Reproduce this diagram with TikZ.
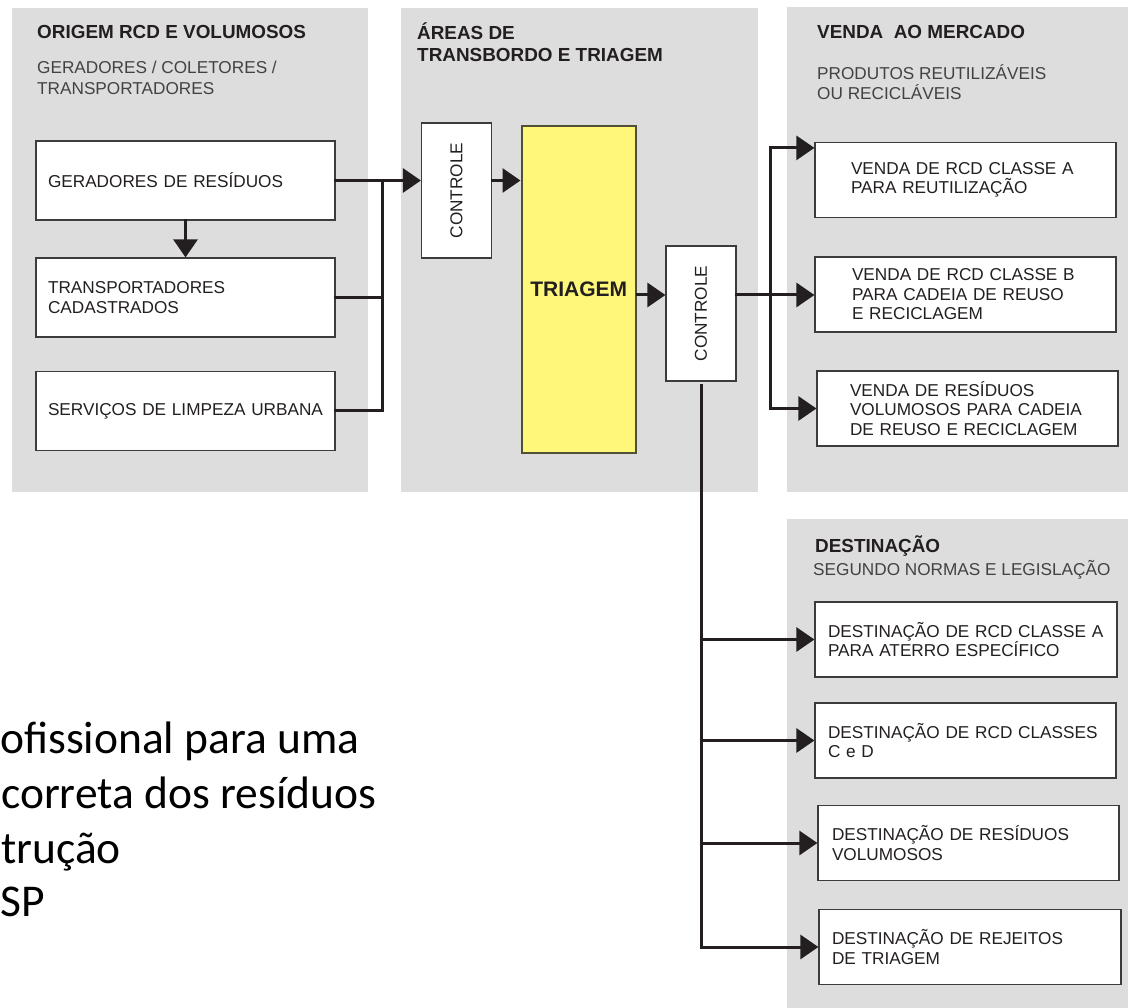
\documentclass[tikz,border=0pt]{standalone}
\usepackage{fontspec}
\setmainfont{Liberation Sans}
\newfontfamily\calibri{Carlito}
\usetikzlibrary{arrows.meta}
\definecolor{painel}{HTML}{DDDDDD}
\definecolor{amarelo}{HTML}{FFF77A}
\definecolor{traco}{HTML}{231F20}
\definecolor{borda}{HTML}{3C3C3C}
\tikzset{
	caixa/.style={draw=borda, fill=white, line width=1.2pt, align=left, inner ysep=0pt, text=traco, font=\fontsize{17.2}{19.5}\selectfont},
	origem/.style={caixa, minimum height=79pt, inner xsep=12pt, text width=275pt},
	saida/.style 2 args={caixa, minimum height=75pt, inner xsep=#1, text width=#2},
	controle/.style={caixa, minimum width=70pt, minimum height=135pt, inner sep=0pt},
	fluxo/.style={draw=traco, line width=3pt, line cap=rect},
	seta/.style={fluxo, -{Triangle[length=18pt,width=24pt]}},
	titulo/.style={anchor=base west, inner sep=0pt, text=traco, font=\bfseries\fontsize{18.9}{22}\selectfont},
	sub/.style={anchor=base west, inner sep=0pt, text=traco!85, font=\fontsize{17.2}{20}\selectfont},
	rodape/.style={anchor=base west, inner sep=0pt, font=\calibri\fontsize{45.5}{54}\selectfont},
}
\begin{document}
\begin{tikzpicture}[x=1pt,y=-1pt]
	\useasboundingbox (0,0) rectangle (1128,1008);
	% paineis
	\fill[painel] (12,8) rectangle (368,492);
	\fill[painel] (401,8) rectangle (758,492);
	\fill[painel] (787,7) rectangle (1128,492);
	\fill[painel] (787,519) rectangle (1128,1008);
	% titulos
	\node[titulo] (t1) at (37,39) {ORIGEM RCD E VOLUMOSOS};
	\node[sub] (t1a) at (37,74) {GERADORES / COLETORES /};
	\node[sub] (t1b) at (37,95) {TRANSPORTADORES};
	\node[titulo] (t2) at (417,40) {ÁREAS DE};
	\node[titulo] (t2a) at (417,62) {TRANSBORDO E TRIAGEM};
	\node[titulo] (t3) at (817,39) {VENDA\ \ AO MERCADO};
	\node[sub] (t3a) at (817,80) {PRODUTOS REUTILIZÁVEIS};
	\node[sub] (t3b) at (817,100) {OU RECICLÁVEIS};
	\node[titulo] (t4) at (815,552) {DESTINAÇÃO};
	\node[sub] (t4a) at (813,575) {SEGUNDO NORMAS E LEGISLAÇÃO};
	% origem
	\node[origem] (ger) at (185.5,180.5) {GERADORES DE RESÍDUOS};
	\node[origem] (transp) at (185.5,297.5) {TRANSPORTADORES\\CADASTRADOS};
	\node[origem] (serv) at (185.5,411) {SERVIÇOS DE LIMPEZA URBANA};
	% transbordo e triagem
	\node[controle] (ctrl1) at (456.5,190.5) {\rotatebox{90}{CONTROLE}};
	\node[draw=borda!90!yellow, line width=2pt, fill=amarelo, minimum width=114.5pt, minimum height=327pt, text=traco, font=\bfseries\fontsize{21}{24}\selectfont] (triagem) at (578.75,289.5) {TRIAGEM};
	\node[controle] (ctrl2) at (701,313.5) {\rotatebox{90}{CONTROLE}};
	% venda
	\node[saida={36pt}{229pt}] (vA) at (965.5,180) {VENDA DE RCD CLASSE A\\PARA REUTILIZAÇÃO};
	\node[saida={37pt}{227pt}] (vB) at (965.5,294.5) {VENDA DE RCD CLASSE B\\PARA CADEIA DE REUSO\\E RECICLAGEM};
	\node[saida={33pt}{235pt}] (vC) at (967.5,408.5) {VENDA DE RESÍDUOS\\VOLUMOSOS PARA CADEIA\\DE REUSO E RECICLAGEM};
	% destinacao
	\node[saida={13pt}{276pt}] (dA) at (966,639.5) {DESTINAÇÃO DE RCD CLASSE A\\PARA ATERRO ESPECÍFICO};
	\node[saida={13pt}{275pt}] (dB) at (965.5,740.5) {DESTINAÇÃO DE RCD CLASSES\\C e D};
	\node[saida={14pt}{273pt}] (dC) at (968.5,843) {DESTINAÇÃO DE RESÍDUOS\\VOLUMOSOS};
	\node[saida={13pt}{276pt}] (dD) at (970,947) {DESTINAÇÃO DE REJEITOS\\DE TRIAGEM};
	% ligacoes
	\coordinate (bus1) at (382,0);
	\coordinate (bus2) at (770,295);
	\coordinate (eixo) at (0,295);
	\coordinate (vAin) at ([yshift=-6pt]vA.north west);
	\draw[seta] (ger.south) -- (transp.north);
	\draw[fluxo] (transp.east) -- (transp.east -| bus1);
	\draw[fluxo] (serv.east) -| (ger.east -| bus1);
	\draw[seta] (ger.east) -- (ger.east -| ctrl1.west);
	\draw[seta] (ger.east -| ctrl1.east) -- (ger.east -| triagem.west);
	\draw[seta] (triagem.east |- eixo) -- (ctrl2.west |- eixo);
	\draw[seta] (ctrl2.east |- eixo) -- (vB.west |- eixo);
	\draw[seta] (bus2) |- (vAin);
	\draw[seta] (bus2) |- (vC.west);
	\draw[fluxo] ([yshift=-4pt]ctrl2.south) -- (ctrl2.south |- dD.west);
	\foreach \d in {dA,dB,dC,dD} \draw[seta] (ctrl2.south |- \d.west) -- (\d.west);
	% texto cortado
	\node[rodape] (r1) at (0,753) {ofissional para uma};
	\node[rodape] (r2) at (1,808) {correta dos resíduos};
	\node[rodape] (r3) at (1,863) {trução};
	\node[rodape] (r4) at (0,916) {SP};
\end{tikzpicture}
\end{document}
